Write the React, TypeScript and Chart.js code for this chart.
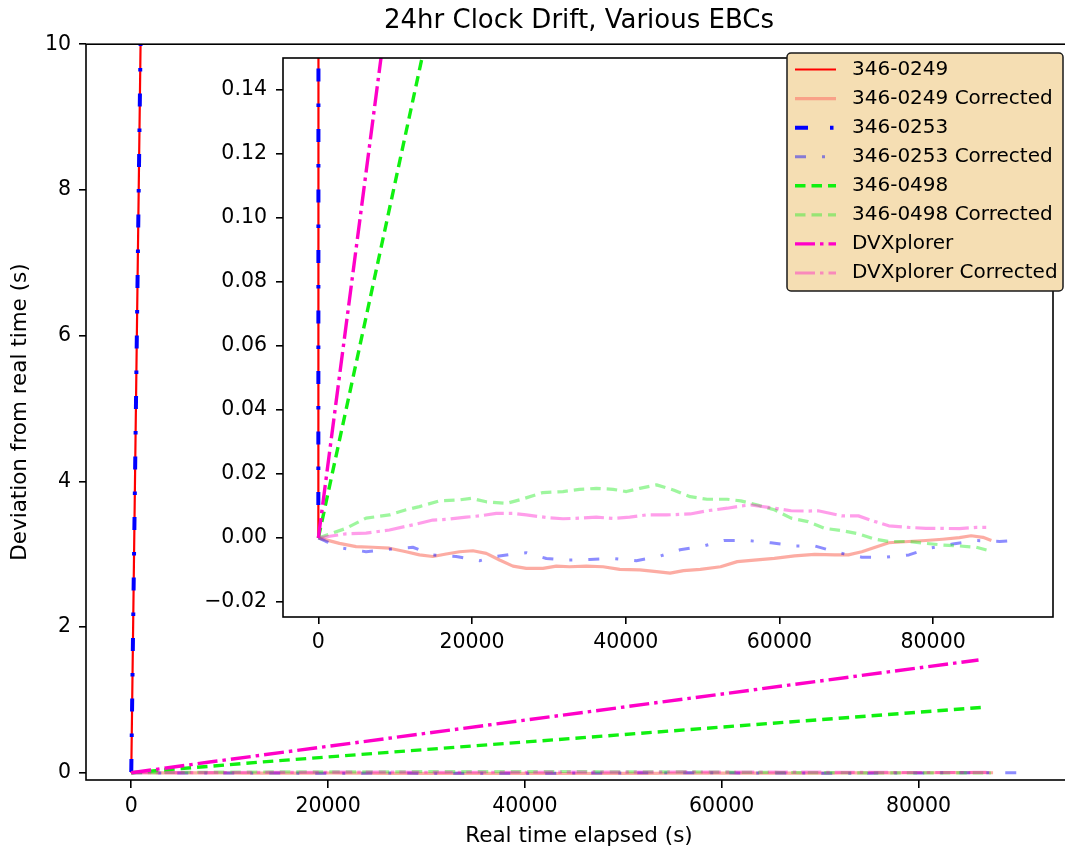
import React, { useEffect, useRef } from "react";
import { Chart, registerables } from "chart.js";

Chart.register(...registerables);

const FONT = "'DejaVu Sans', 'Liberation Sans', sans-serif";

// ---------- tick labels ----------
const xTicks = [0, 20000, 40000, 60000, 80000];
const mainYTicks = [0, 2, 4, 6, 8, 10];
const insetYTicks = [-0.02, 0, 0.02, 0.04, 0.06, 0.08, 0.1, 0.12, 0.14];

// ---------- series labels ----------
const seriesLabels = [
  "346-0249",
  "346-0249 Corrected",
  "346-0253",
  "346-0253 Corrected",
  "346-0498",
  "346-0498 Corrected",
  "DVXplorer",
  "DVXplorer Corrected",
];

// ---------- series values: [elapsed seconds, deviation seconds] ----------
const s0249: number[][] = [
  [0, 0],
  [945, 10],
  [86400, 914],
];
const s0249c: number[][] = [
  [0, 0], [1000, -0.0006], [2740, -0.0017], [4910, -0.0027], [7080, -0.0029],
  [9250, -0.0032], [11420, -0.0043], [13160, -0.0053], [14900, -0.0058],
  [16640, -0.005], [18370, -0.0043], [20110, -0.004], [21850, -0.0048],
  [23580, -0.0069], [25320, -0.0088], [27060, -0.0095], [29230, -0.0095],
  [30970, -0.0088], [32700, -0.009], [34870, -0.0088], [37050, -0.009],
  [39220, -0.0098], [41820, -0.01], [44010, -0.0105], [45770, -0.011],
  [47520, -0.0102], [49710, -0.0098], [52340, -0.009], [54520, -0.0074],
  [56710, -0.0069], [59340, -0.0064], [61970, -0.0056], [64590, -0.0051],
  [67220, -0.0053], [68970, -0.0053], [70720, -0.0043], [72470, -0.0029],
  [74230, -0.0015], [76850, -0.0011], [79040, -0.0008], [81230, -0.0004],
  [83420, 0.0001], [84950, 0.0007], [86480, 0.0002], [87580, -0.0008],
];
const s0253: number[][] = [
  [0, 0.0103],
  [945, 10],
  [86400, 914],
];
const s0253c: number[][] = [
  [0, 0], [1000, -0.0011], [3170, -0.0032], [6210, -0.0043], [9250, -0.0035],
  [12290, -0.0029], [14900, -0.0053], [17940, -0.0058], [20980, -0.0071],
  [23150, -0.0058], [25320, -0.005], [27060, -0.0046], [29670, -0.0064],
  [32270, -0.0069], [35310, -0.0067], [38350, -0.0064], [41390, -0.0071],
  [44300, -0.0058], [47070, -0.0037], [50140, -0.0025], [52770, -0.0008],
  [55830, -0.0008], [58890, -0.0015], [61960, -0.0025], [64590, -0.0025],
  [67650, -0.0046], [70720, -0.006], [73780, -0.006], [76850, -0.0053],
  [79480, -0.0032], [82540, -0.0019], [85600, -0.0008], [88660, -0.0011],
  [91420, -0.0006],
];
const s0498: number[][] = [
  [0, 0],
  [13400, 0.149],
  [86450, 0.897],
];
const s0498c: number[][] = [
  [0, 0], [3600, 0.003], [6210, 0.0062], [9250, 0.0072], [11420, 0.0088],
  [13160, 0.0098], [15770, 0.0116], [18370, 0.0119], [19890, 0.0124],
  [21850, 0.0113], [24450, 0.0108], [26190, 0.0119], [29230, 0.0142],
  [31830, 0.0145], [34000, 0.0152], [36180, 0.0155], [38350, 0.0152],
  [40090, 0.0145], [41820, 0.0155], [44010, 0.0166], [46200, 0.015],
  [48390, 0.0129], [50580, 0.0121], [53210, 0.0121], [54960, 0.0116],
  [57150, 0.0103], [59340, 0.0088], [61520, 0.0062], [63710, 0.0051],
  [65900, 0.003], [68090, 0.0023], [70280, 0.0013], [72470, -0.0004],
  [74230, -0.0011], [76850, -0.0011], [79040, -0.0017], [81230, -0.0022],
  [83420, -0.0025], [85600, -0.0029], [87360, -0.004],
];
const sDvx: number[][] = [
  [0, 0],
  [8150, 0.15],
  [86100, 1.548],
];
const sDvxc: number[][] = [
  [0, 0], [3600, 0.0013], [6210, 0.0015], [9250, 0.0025], [12290, 0.0041],
  [14900, 0.0056], [16640, 0.0058], [19240, 0.0065], [20980, 0.0069],
  [23150, 0.0077], [25320, 0.0077], [27060, 0.0072], [29670, 0.0064],
  [31830, 0.006], [34000, 0.0062], [36180, 0.0065], [38350, 0.0061],
  [40520, 0.0065], [42690, 0.0072], [45330, 0.0072], [48390, 0.0075],
  [50580, 0.0085], [53210, 0.0093], [54960, 0.01], [56270, 0.0103],
  [59340, 0.0093], [61520, 0.0085], [63710, 0.0084], [65030, 0.0085],
  [68090, 0.0069], [70280, 0.0069], [72470, 0.0051], [74230, 0.0038],
  [76850, 0.0033], [79040, 0.003], [81230, 0.003], [83420, 0.0029],
  [85600, 0.0033], [86910, 0.0033],
];

const seriesData = [s0249, s0249c, s0253, s0253c, s0498, s0498c, sDvx, sDvxc];

// ---------- styles ----------
const styles = [
  { color: "#ff0000", width: 2.2, dash: [] as number[] },
  { color: "rgba(250,128,114,0.65)", width: 3.2, dash: [] as number[] },
  { color: "#0000ff", width: 4, dash: [13, 22, 3.5, 22] },
  { color: "rgba(0,0,255,0.45)", width: 3, dash: [11, 16, 3, 16] },
  { color: "#10f010", width: 3.4, dash: [10.5, 6] },
  { color: "rgba(40,235,40,0.45)", width: 3.2, dash: [10.5, 6] },
  { color: "rgb(255,0,200)", width: 3.4, dash: [20, 5, 3.5, 5] },
  { color: "rgba(255,0,200,0.38)", width: 3.2, dash: [20, 5, 3.5, 5] },
];

const X_MIN = -4600;
const X_MAX = 95600;

const toXY = (pairs: number[][]) => pairs.map(([x, y]) => ({ x, y }));

const makeDatasets = () =>
  seriesData.map((d, i) => ({
    label: seriesLabels[i],
    data: toXY(d),
    borderColor: styles[i].color,
    backgroundColor: styles[i].color,
    borderWidth: styles[i].width,
    borderDash: styles[i].dash,
    borderCapStyle: "butt" as const,
    borderJoinStyle: "round" as const,
    pointRadius: 0,
    pointHoverRadius: 0,
    fill: false,
    tension: 0,
    clip: 0,
    order: -i,
  }));

const boxPlugin = {
  id: "boxPlugin",
  afterDatasetsDraw(chart: any) {
    const { ctx, chartArea: a } = chart;
    ctx.save();
    ctx.strokeStyle = "#000";
    ctx.lineWidth = 1.6;
    ctx.setLineDash([]);
    ctx.strokeRect(a.left, a.top, a.right - a.left, a.bottom - a.top);
    ctx.restore();
  },
};

const whiteAreaPlugin = {
  id: "whiteArea",
  beforeDraw(chart: any) {
    const { ctx, chartArea: a } = chart;
    ctx.save();
    ctx.fillStyle = "#ffffff";
    ctx.fillRect(a.left, a.top, a.right - a.left, a.bottom - a.top);
    ctx.restore();
  },
};

const legendPlugin = {
  id: "customLegend",
  afterDraw(chart: any) {
    const ctx = chart.ctx;
    ctx.save();
    const x0 = 787;
    const y0 = 53;
    const w = 276;
    const h = 238;
    ctx.beginPath();
    ctx.roundRect(x0, y0, w, h, 4);
    ctx.fillStyle = "#f5deb3";
    ctx.fill();
    ctx.lineWidth = 1.5;
    ctx.strokeStyle = "#1a1a1a";
    ctx.stroke();
    ctx.font = `20px ${FONT}`;
    ctx.textBaseline = "middle";
    ctx.textAlign = "left";
    seriesLabels.forEach((lab, i) => {
      const y = y0 + 16.5 + i * 29.07;
      const s = styles[i];
      ctx.beginPath();
      ctx.setLineDash(s.dash);
      ctx.lineWidth = s.width;
      ctx.strokeStyle = s.color;
      ctx.lineCap = "butt";
      ctx.moveTo(x0 + 8, y);
      ctx.lineTo(x0 + 49, y);
      ctx.stroke();
      ctx.setLineDash([]);
      ctx.fillStyle = "#000";
      ctx.fillText(lab, x0 + 65, y);
    });
    ctx.restore();
  },
};

const tickFont = { family: FONT, size: 20.5 };

const fmtInset = (v: number) => {
  const s = Number(v).toFixed(2);
  return s.startsWith("-") ? "\u2212" + s.slice(1) : s;
};

export default function App() {
  const mainRef = useRef<HTMLCanvasElement>(null);
  const insetRef = useRef<HTMLCanvasElement>(null);

  useEffect(() => {
    Chart.defaults.color = "#000";
    Chart.defaults.font.family = FONT;

    const main = new Chart(mainRef.current as HTMLCanvasElement, {
      type: "line",
      data: { datasets: makeDatasets() as any },
      options: {
        animation: false,
        responsive: false,
        devicePixelRatio: 1,
        events: [],
        layout: { padding: { top: 0, left: 0, right: 0, bottom: 0 } },
        plugins: {
          legend: { display: false },
          tooltip: { enabled: false },
          title: {
            display: true,
            text: "24hr Clock Drift, Various EBCs",
            fullSize: false,
            color: "#000",
            font: { family: FONT, size: 26, weight: "normal" as any, lineHeight: 1.2 },
            padding: { top: 6, bottom: 7 },
          },
        },
        scales: {
          x: {
            type: "linear",
            position: "bottom",
            min: X_MIN,
            max: X_MAX,
            afterBuildTicks: (scale: any) => {
              scale.ticks = xTicks.map((v) => ({ value: v }));
            },
            afterFit: (scale: any) => {
              scale.height = 70;
            },
            ticks: {
              font: tickFont,
              color: "#000",
              padding: 6,
              maxRotation: 0,
              autoSkip: false,
              callback: (v: any) => String(v),
            },
            grid: {
              drawOnChartArea: false,
              drawTicks: true,
              tickLength: 8,
              color: "#000",
              lineWidth: 1.6,
            },
            border: { display: false },
            title: {
              display: true,
              text: "Real time elapsed (s)",
              color: "#000",
              font: { family: FONT, size: 21.5, lineHeight: 1.2 },
              padding: { top: 0, bottom: 1 },
            },
          },
          y: {
            type: "linear",
            min: -0.1,
            max: 10,
            afterBuildTicks: (scale: any) => {
              scale.ticks = mainYTicks.map((v) => ({ value: v }));
            },
            afterFit: (scale: any) => {
              scale.width = 86;
            },
            ticks: {
              font: tickFont,
              color: "#000",
              padding: 8,
              autoSkip: false,
              callback: (v: any) => String(v),
            },
            grid: {
              drawOnChartArea: false,
              drawTicks: true,
              tickLength: 7,
              color: "#000",
              lineWidth: 1.6,
            },
            border: { display: false },
            title: {
              display: true,
              text: "Deviation from real time (s)",
              color: "#000",
              font: { family: FONT, size: 21.5, lineHeight: 1.2 },
              padding: { top: 8, bottom: 0 },
            },
          },
        },
      } as any,
      plugins: [boxPlugin],
    });

    const inset = new Chart(insetRef.current as HTMLCanvasElement, {
      type: "line",
      data: { datasets: makeDatasets() as any },
      options: {
        animation: false,
        responsive: false,
        devicePixelRatio: 1,
        events: [],
        layout: { padding: { top: 58, left: 0, right: 19, bottom: 0 } },
        plugins: {
          legend: { display: false },
          tooltip: { enabled: false },
          title: { display: false },
        },
        scales: {
          x: {
            type: "linear",
            position: "bottom",
            min: X_MIN,
            max: X_MAX,
            afterBuildTicks: (scale: any) => {
              scale.ticks = xTicks.map((v) => ({ value: v }));
            },
            afterFit: (scale: any) => {
              scale.height = 233;
            },
            ticks: {
              font: tickFont,
              color: "#000",
              padding: 6,
              maxRotation: 0,
              autoSkip: false,
              callback: (v: any) => String(v),
            },
            grid: {
              drawOnChartArea: false,
              drawTicks: true,
              tickLength: 7,
              color: "#000",
              lineWidth: 1.6,
            },
            border: { display: false },
          },
          y: {
            type: "linear",
            min: -0.0247,
            max: 0.15,
            afterBuildTicks: (scale: any) => {
              scale.ticks = insetYTicks.map((v) => ({ value: v }));
            },
            afterFit: (scale: any) => {
              scale.width = 283;
            },
            ticks: {
              font: tickFont,
              color: "#000",
              padding: 9,
              autoSkip: false,
              callback: (v: any) => fmtInset(v),
            },
            grid: {
              drawOnChartArea: false,
              drawTicks: true,
              tickLength: 7,
              color: "#000",
              lineWidth: 1.6,
            },
            border: { display: false },
          },
        },
      } as any,
      plugins: [whiteAreaPlugin, boxPlugin, legendPlugin],
    });

    return () => {
      main.destroy();
      inset.destroy();
    };
  }, []);

  return (
    <div
      style={{
        position: "absolute",
        left: 0,
        top: 0,
        width: 1065,
        height: 850,
        overflow: "hidden",
        background: "#ffffff",
      }}
    >
      <canvas
        ref={mainRef}
        width={1072}
        height={850}
        style={{ position: "absolute", left: 0, top: 0 }}
      />
      <canvas
        ref={insetRef}
        width={1072}
        height={850}
        style={{ position: "absolute", left: 0, top: 0 }}
      />
    </div>
  );
}
